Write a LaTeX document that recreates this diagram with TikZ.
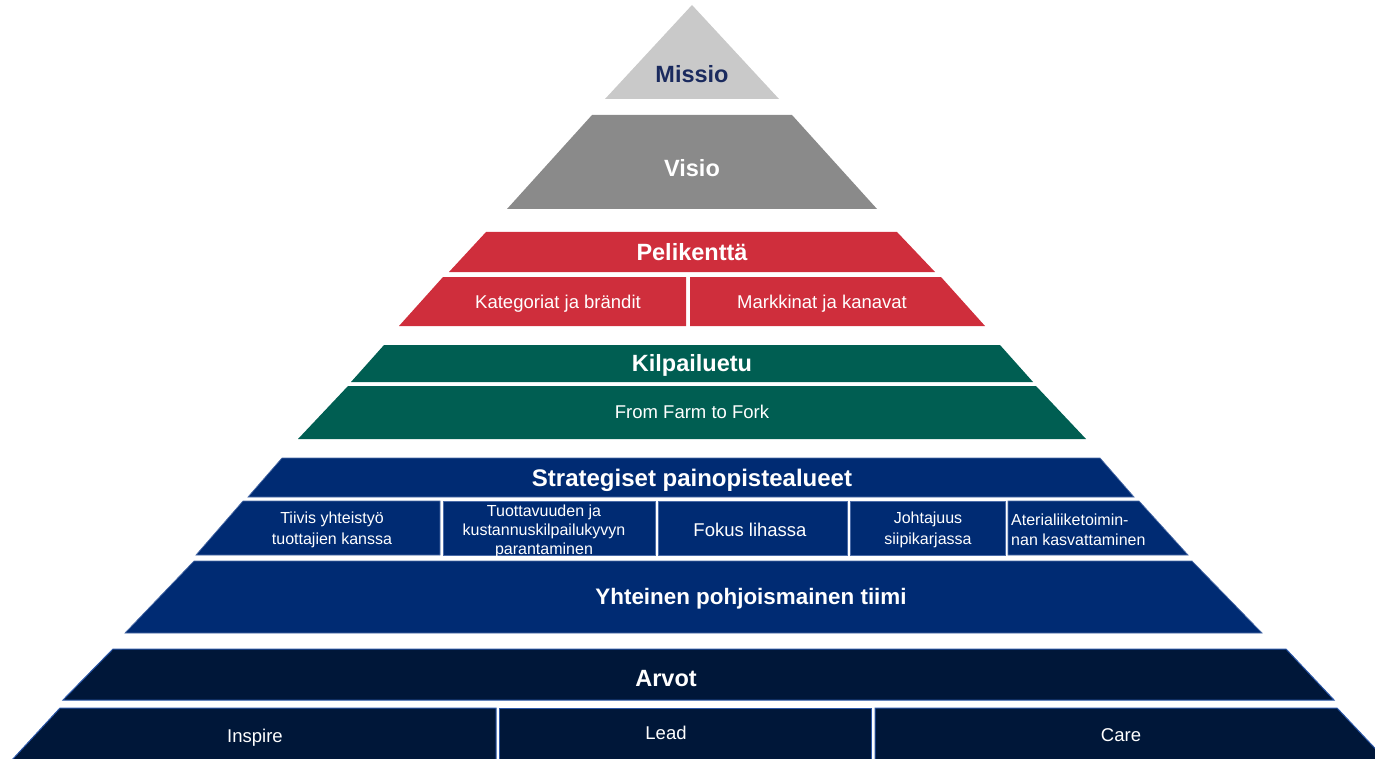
\documentclass[tikz,border=0pt]{standalone}
\usepackage{fontspec}
\setmainfont{Liberation Sans}
\definecolor{greyL}{HTML}{C9C9C9}
\definecolor{greyD}{HTML}{8A8A8A}
\definecolor{redc}{HTML}{CF2E3C}
\definecolor{greenc}{HTML}{005E52}
\definecolor{navy}{HTML}{002B73}
\definecolor{navyedge}{HTML}{4A6BA8}
\definecolor{darknavy}{HTML}{001739}
\definecolor{darkedge}{HTML}{2A56A8}
\definecolor{missiotext}{HTML}{1A2A5E}
\tikzset{
  title/.style={font=\fontsize{23.5}{28}\selectfont\bfseries, text=white, inner sep=0pt, anchor=base},
  lbl/.style={font=\fontsize{18.5}{22}\selectfont, text=white, inner sep=0pt, anchor=base},
  smalltxt/.style={font=\fontsize{16}{20.5}\selectfont, text=white, align=center, inner sep=0pt},
  navyshape/.style={fill=navy, draw=navyedge, line width=0.7pt},
  darkshape/.style={fill=darknavy, draw=darkedge, line width=1pt}
}
\begin{document}
\begin{tikzpicture}[x=1pt,y=-1pt]
\useasboundingbox (0,0) rectangle (1375,759);
\clip (0,0) rectangle (1375,759);
% Missio / Visio
\fill[greyL] (692,5) -- (779,99) -- (605,99) -- cycle;
\fill[greyD] (592,115) -- (792,115) -- (877,209) -- (507,209) -- cycle;
% Pelikentta
\fill[redc] (486,232) -- (897,232) -- (935,272) -- (449,272) -- cycle;
\fill[redc] (443,277) -- (686,277) -- (686,326) -- (399,326) -- cycle;
\fill[redc] (690,277) -- (941,277) -- (985,326) -- (690,326) -- cycle;
% Kilpailuetu
\fill[greenc] (384,345) -- (1000,345) -- (1033,382) -- (351,382) -- cycle;
\fill[greenc] (348,386) -- (1036,386) -- (1086,439) -- (298,439) -- cycle;
% Strategiset
\path[navyshape] (282,458) -- (1100,458) -- (1134,497) -- (248,497) -- cycle;
\path[navyshape] (243,501) -- (440,501) -- (440,555) -- (196,555) -- cycle;
\path[navyshape] (443,501) rectangle (655,555);
\path[navyshape] (658,501) rectangle (847,555);
\path[navyshape] (850,501) rectangle (1005,555);
\path[navyshape] (1008,501) -- (1139,501) -- (1188,555) -- (1008,555) -- cycle;
% Yhteinen
\path[navyshape] (194,561) -- (1192,561) -- (1262,633) -- (125,633) -- cycle;
% Arvot
\path[darkshape] (113,649) -- (1286,649) -- (1334,700) -- (63,700) -- cycle;
\path[darkshape] (60,708) -- (496,708) -- (496,760) -- (12,760) -- cycle;
\path[darkshape] (499,708) rectangle (871,760);
\path[darkshape] (875,708) -- (1337,708) -- (1386,760) -- (875,760) -- cycle;

% Texts
\node[title, text=missiotext] (missio) at (692,83) {Missio};
\node[title] (visio) at (692,177) {Visio};
\node[title] (pel) at (692,261) {Pelikenttä};
\node[lbl] (kat) at (558,308) {Kategoriat ja brändit};
\node[lbl] (mark) at (822,308) {Markkinat ja kanavat};
\node[title] (kil) at (692,371) {Kilpailuetu};
\node[lbl] (farm) at (692,418) {From Farm to Fork};
\node[title, font=\fontsize{24}{28}\selectfont\bfseries] (str) at (692,486) {Strategiset painopistealueet};
\node[smalltxt] (s1) at (332,530) {Tiivis yhteistyö\\tuottajien kanssa};
\node[smalltxt, font=\fontsize{16}{19}\selectfont] (s2) at (544,531) {Tuottavuuden ja\\kustannuskilpailukyvyn\\parantaminen};
\node[lbl] (s3) at (750,536) {Fokus lihassa};
\node[smalltxt] (s4) at (928,530) {Johtajuus\\siipikarjassa};
\node[smalltxt, align=left, anchor=west] (s5) at (1011,530) {Aterialiiketoimin-\\nan kasvattaminen};
\node[title, font=\fontsize{22.4}{27}\selectfont\bfseries] (yht) at (751,604) {Yhteinen pohjoismainen tiimi};
\node[title] (arv) at (666,686) {Arvot};
\node[lbl] (insp) at (255,742) {Inspire};
\node[lbl] (lead) at (666,739) {Lead};
\node[lbl] (care) at (1121,741) {Care};
\end{tikzpicture}
\end{document}
